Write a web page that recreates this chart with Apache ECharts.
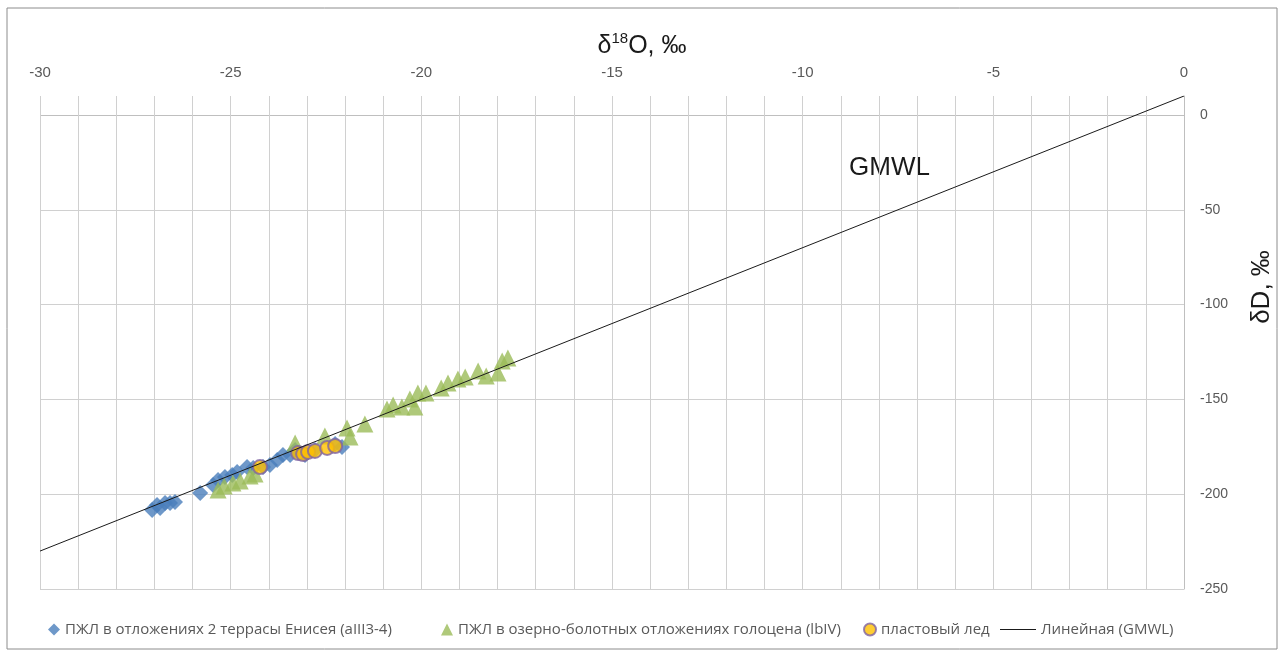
<!DOCTYPE html>
<html>
<head>
<meta charset="utf-8">
<script src="https://cdn.jsdelivr.net/npm/echarts@6/dist/echarts.min.js"></script>
<style>
  html, body { margin: 0; padding: 0; background: #fff; }
  #chart { width: 1284px; height: 655px; }
</style>
</head>
<body>
<div id="chart"></div>
<script>
// ПЖЛ в отложениях 2 террасы Енисея (aIII3-4)
const terraceX = [-27.06, -26.93, -26.85, -26.72, -26.59, -26.46, -25.80, -25.46, -25.33, -25.15, -24.96, -24.83,
  -24.57, -24.41, -24.15, -23.97, -23.78, -23.63, -23.44, -23.31, -23.05, -22.79, -22.26, -22.08]
const terraceY = [-208.3, -205.7, -207.3, -204.6, -204.6, -204.1, -199.4, -195.1, -192.5, -190.9, -189.9, -188.3,
  -185.7, -186.2, -185.7, -184.6, -182.0, -179.3, -179.3, -176.7, -179.3, -176.7, -173.5, -175.1]

// ПЖЛ в озерно-болотных отложениях голоцена (lbIV)
const holoceneX = [-25.33, -25.17, -24.94, -24.75, -24.49, -24.36, -23.31, -22.53, -21.95, -21.87, -21.48, -20.90,
  -20.74, -20.51, -20.30, -20.17, -20.09, -19.88, -19.48, -19.30, -19.04, -18.85, -18.51, -18.30, -17.99, -17.88, -17.73]
const holoceneY = [-197.8, -195.7, -194.1, -193.0, -190.4, -189.3, -173.0, -169.3, -165.1, -169.8, -163.0, -155.1,
  -152.9, -154.0, -149.8, -154.0, -146.6, -146.6, -144.0, -141.4, -139.2, -138.2, -135.0, -137.7, -136.1, -129.7, -128.2]

// пластовый лед
const iceX = [-24.23, -23.23, -23.10, -22.97, -22.79, -22.47, -22.26]
const iceY = [-185.7, -178.3, -178.8, -177.7, -177.2, -175.6, -174.6]

// Линейная (GMWL): δD = 8·δ18O + 10
const gmwlX = [-30, 0]
const gmwlY = [-230, 10]

const seriesNames = [
  'ПЖЛ в отложениях 2 террасы Енисея (aIII3-4)',
  'ПЖЛ в озерно-болотных отложениях голоцена (lbIV)',
  'пластовый лед',
  'Линейная (GMWL)'
]

const zip = (xs, ys) => xs.map((x, i) => [x, ys[i]])

const FONT = 'Liberation Sans, Arial, sans-serif'
const LEGEND_FONT = 'Open Sans, Liberation Sans, sans-serif'
const gridColor = '#d0d0d0'

const legendText = { fontSize: 15, color: '#595959', fontFamily: LEGEND_FONT }
// one legend block per entry so each sits where the original puts it
const legendAt = (item, left, w) => ({
  data: [item],
  left: left,
  bottom: 13,
  itemWidth: w,
  itemHeight: 12,
  textStyle: legendText
})

const chart = echarts.init(document.getElementById('chart'))

chart.setOption({
  animation: false,
  backgroundColor: '#fff',
  textStyle: { fontFamily: FONT },
  title: {
    left: 'center',
    top: 26,
    text: '{a|δ}{s|18}{a|O, ‰}',
    textStyle: {
      fontWeight: 'normal',
      rich: {
        a: { fontSize: 25, color: '#1a1a1a', fontFamily: FONT, fontWeight: 'normal', lineHeight: 30 },
        s: { fontSize: 15, color: '#1a1a1a', fontFamily: FONT, fontWeight: 'normal', verticalAlign: 'top', lineHeight: 16 }
      }
    }
  },
  graphic: [
    {
      type: 'rect',
      shape: { x: 7, y: 8, width: 1270, height: 641 },
      style: { fill: 'none', stroke: '#8c8c8c', lineWidth: 1 },
      silent: true
    },
    {
      type: 'text',
      x: 1262,
      y: 287,
      rotation: Math.PI / 2,
      style: { text: 'δD, ‰', fontSize: 26, fontFamily: FONT, fill: '#1a1a1a', align: 'center', verticalAlign: 'middle' }
    },
    {
      type: 'text',
      x: 849,
      y: 155,
      style: { text: 'GMWL', fontSize: 26, fontFamily: FONT, fill: '#1a1a1a' }
    }
  ],
  grid: { left: 40, right: 100, top: 96, bottom: 66 },
  legend: [
    legendAt(seriesNames[0], 43, 12),
    legendAt(seriesNames[1], 436, 12),
    legendAt(seriesNames[2], 858, 12),
    legendAt({ name: seriesNames[3], icon: 'path://M0,0H36V1H0Z' }, 995, 36)
  ],
  xAxis: {
    type: 'value',
    position: 'top',
    min: -30,
    max: 0,
    interval: 5,
    axisLine: { show: false },
    axisTick: { show: false },
    axisLabel: { fontSize: 15, color: '#595959', margin: 16 },
    splitLine: { show: true, lineStyle: { color: gridColor, width: 1 } },
    minorTick: { show: false, splitNumber: 5 },
    minorSplitLine: { show: true, lineStyle: { color: gridColor, width: 1 } }
  },
  yAxis: {
    type: 'value',
    position: 'right',
    min: -250,
    max: 10,
    interval: 50,
    axisLine: { show: true, onZero: false, lineStyle: { color: '#bfbfbf' } },
    axisTick: { show: false },
    axisLabel: {
      fontSize: 14,
      color: '#595959',
      margin: 16,
      showMaxLabel: false,
      formatter: v => (v > 0 ? '' : String(v))
    },
    splitLine: {
      show: true,
      lineStyle: { color: [gridColor, gridColor, gridColor, gridColor, gridColor, '#bfbfbf', 'rgba(0,0,0,0)'] }
    }
  },
  series: [
    {
      name: seriesNames[0],
      type: 'scatter',
      symbol: 'diamond',
      symbolSize: 16,
      itemStyle: { color: '#4a7ebb' },
      data: zip(terraceX, terraceY),
      z: 2
    },
    {
      name: seriesNames[1],
      type: 'scatter',
      symbol: 'triangle',
      symbolSize: 17,
      itemStyle: { color: '#9bbb59' },
      data: zip(holoceneX, holoceneY),
      z: 3
    },
    {
      name: seriesNames[2],
      type: 'scatter',
      symbol: 'circle',
      symbolSize: 14,
      itemStyle: { color: '#ffc000', borderColor: '#8064a2', borderWidth: 2 },
      data: zip(iceX, iceY),
      z: 4
    },
    {
      name: seriesNames[3],
      type: 'line',
      showSymbol: false,
      symbol: 'none',
      lineStyle: { color: '#1a1a1a', width: 1 },
      itemStyle: { color: '#1a1a1a' },
      data: zip(gmwlX, gmwlY),
      z: 5
    }
  ]
})
</script>
</body>
</html>
